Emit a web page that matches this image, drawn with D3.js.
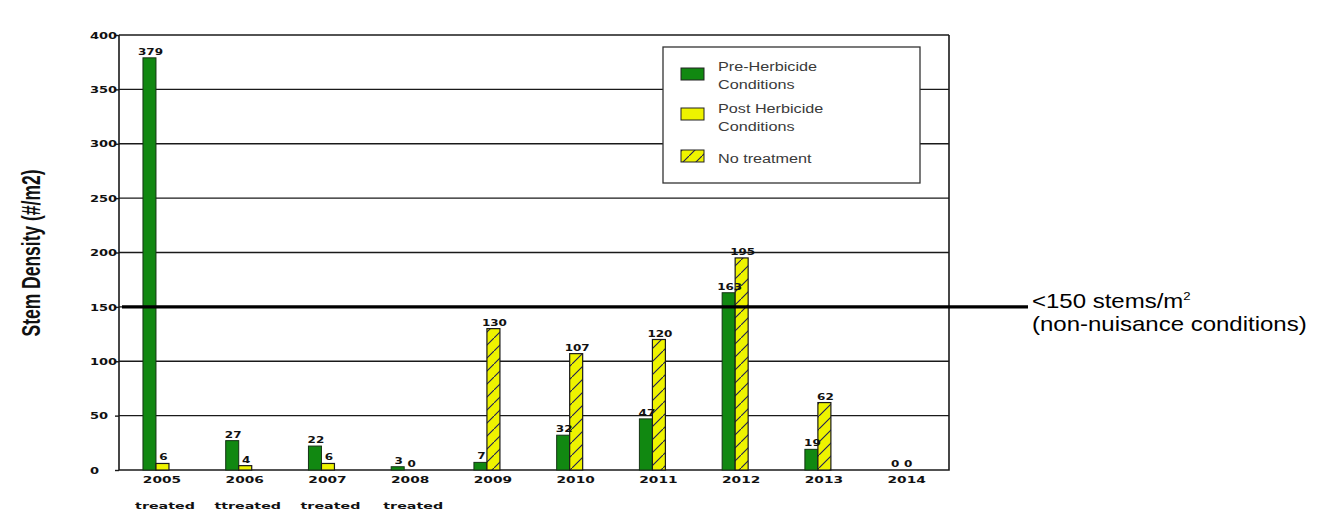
<!DOCTYPE html>
<html>
<head>
<meta charset="utf-8">
<script src="https://cdn.jsdelivr.net/npm/d3@7/dist/d3.min.js"></script>
<style>
  html, body { margin: 0; padding: 0; background: #fff; }
  svg { display: block; }
</style>
</head>
<body>
<svg id="chart" width="1321" height="510"></svg>
<script>
// Stem density by survey year
const years = ["2005", "2006", "2007", "2008", "2009", "2010", "2011", "2012", "2013", "2014"];
const preHerbicide = [379, 27, 22, 3, 7, 32, 47, 163, 19, 0];
const secondValues = [6, 4, 6, 0, 130, 107, 120, 195, 62, 0];
// whether the second bar of a year is post-herbicide or an untreated year
const secondKind = ["post", "post", "post", "post", "none", "none", "none", "none", "none", "none"];
const treatmentNotes = ["treated", "ttreated", "treated", "treated", "", "", "", "", "", ""];
const yTicks = [0, 50, 100, 150, 200, 250, 300, 350, 400];
const threshold = 150;
const legendItems = [
  { kind: "pre", lines: ["Pre-Herbicide", "Conditions"] },
  { kind: "post", lines: ["Post Herbicide", "Conditions"] },
  { kind: "none", lines: ["No treatment"] }
];

const svg = d3.select("#chart");
const plot = { left: 119, right: 949, top: 35, bottom: 470 };
const SX = 1.2;      // horizontal stretch for regular text
const SX_SMALL = 1.45; // horizontal stretch for the small bold labels

const x = d3.scaleBand().domain(years).range([114.6, 942]).padding(0);
const y = d3.scaleLinear().domain([0, 400]).range([plot.bottom, plot.top]);
const barW = 13;

const GREEN = "#118811";
const YELLOW = "#eef300";
const INK = "#1a1a1a";

// draws a horizontally stretched text at (px, py)
function stretchedText(parent, px, py, str, opts, sx) {
  const t = parent.append("text")
    .attr("transform", `translate(${px},${py}) scale(${sx || SX},1)`)
    .attr("x", 0).attr("y", 0)
    .text(str);
  Object.entries(opts || {}).forEach(([k, v]) => t.attr(k, v));
  return t;
}
const smallBold = {
  "font-family": "DejaVu Sans", "font-weight": "bold", "fill": "#111"
};

// hatch for untreated years
const defs = svg.append("defs");
const pat = defs.append("pattern")
  .attr("id", "hatch")
  .attr("patternUnits", "userSpaceOnUse")
  .attr("width", 13).attr("height", 13);
pat.append("rect").attr("width", 13).attr("height", 13).attr("fill", YELLOW);
pat.append("path").attr("d", "M-2,15 L15,-2")
  .attr("stroke", "#1c1c55").attr("stroke-width", 1.1);

const fillFor = k => k === "pre" ? GREEN : (k === "post" ? YELLOW : "url(#hatch)");

// horizontal gridlines
svg.append("g").selectAll("line").data(yTicks.filter(d => d > 0)).join("line")
  .attr("x1", plot.left).attr("x2", plot.right)
  .attr("y1", d => y(d)).attr("y2", d => y(d))
  .attr("stroke", INK).attr("stroke-width", 1.4);

// y axis with left-aligned tick labels
const yAxis = d3.axisLeft(y).tickValues(yTicks).tickSize(4).tickFormat(d3.format("d"));
const yG = svg.append("g").attr("transform", `translate(${plot.left},0)`).call(yAxis);
yG.select(".domain").remove();
yG.selectAll(".tick line").attr("stroke", INK).attr("stroke-width", 1.4);
yG.selectAll(".tick text")
  .attr("x", 0).attr("text-anchor", "start").attr("dy", "0.35em")
  .attr("transform", `translate(${90 - plot.left},0) scale(${SX_SMALL},1)`)
  .attr("font-family", "DejaVu Sans").attr("font-weight", "bold")
  .attr("font-size", 9).attr("fill", "#111");

// frame
svg.append("path")
  .attr("d", `M${plot.left},${plot.top} V${plot.bottom} H${plot.right} V${plot.top}`)
  .attr("fill", "none").attr("stroke", INK).attr("stroke-width", 1.6);

// legend box (covers gridlines behind it)
const lg = svg.append("g");
lg.append("rect").attr("x", 663).attr("y", 47).attr("width", 257).attr("height", 136)
  .attr("fill", "#fff").attr("stroke", "#333").attr("stroke-width", 1.3);
const swatchY = [68, 108, 150];
const textBase = [[71, 89], [113, 131], [163]];
legendItems.forEach((it, i) => {
  lg.append("rect").attr("x", 681).attr("y", swatchY[i]).attr("width", 23).attr("height", 12)
    .attr("fill", fillFor(it.kind)).attr("stroke", "#222").attr("stroke-width", 1);
  it.lines.forEach((t, j) => {
    stretchedText(lg, 718, textBase[i][j], t, {
      "font-family": "Liberation Sans, Arial, sans-serif",
      "font-size": 13.5, "fill": "#3a3a3a"
    });
  });
});

// bars
const bars = svg.append("g");
years.forEach((yr, i) => {
  const cx = x(yr) + x.bandwidth() / 2;
  const pre = preHerbicide[i], sec = secondValues[i];
  if (pre > 0) {
    bars.append("rect").attr("x", cx - barW).attr("width", barW)
      .attr("y", y(pre)).attr("height", y(0) - y(pre))
      .attr("fill", GREEN).attr("stroke", "#143314").attr("stroke-width", 1);
  }
  if (sec > 0) {
    bars.append("rect").attr("x", cx).attr("width", barW)
      .attr("y", y(sec)).attr("height", y(0) - y(sec))
      .attr("fill", fillFor(secondKind[i])).attr("stroke", "#1a1a1a").attr("stroke-width", 1.2);
  }
});

// value labels
const lab = svg.append("g");
years.forEach((yr, i) => {
  const cx = x(yr) + x.bandwidth() / 2;
  const opts = Object.assign({ "font-size": 8, "text-anchor": "middle" }, smallBold);
  stretchedText(lab, cx - barW / 2 + 1, y(preHerbicide[i]) - 3, preHerbicide[i], opts, 1.5);
  stretchedText(lab, cx + barW / 2 + 1, y(secondValues[i]) - 3, secondValues[i], opts, 1.5);
});

// x axis labels
const xAxis = d3.axisBottom(x).tickSize(0).tickPadding(0);
const xG = svg.append("g").attr("transform", `translate(6,${plot.bottom})`).call(xAxis);
xG.select(".domain").remove();
xG.selectAll(".tick text")
  .attr("x", 0).attr("y", 0).attr("dy", 0)
  .attr("transform", `translate(0,13) scale(${SX_SMALL},1)`)
  .attr("font-family", "DejaVu Sans").attr("font-weight", "bold")
  .attr("font-size", 9.5).attr("fill", "#111");

const notes = svg.append("g");
years.forEach((yr, i) => {
  if (!treatmentNotes[i]) return;
  stretchedText(notes, x(yr) + x.bandwidth() / 2 + 9, 509, treatmentNotes[i],
    Object.assign({ "font-size": 9.5, "text-anchor": "middle" }, smallBold), 1.5);
});

// y axis title
svg.append("text")
  .attr("transform", "translate(40,253) scale(1.2,1) rotate(-90)")
  .attr("text-anchor", "middle")
  .attr("font-family", "Liberation Sans Narrow, Liberation Sans, Arial, sans-serif")
  .attr("font-weight", "bold").attr("font-size", 22)
  .attr("textLength", 167).attr("lengthAdjust", "spacingAndGlyphs")
  .attr("fill", "#111")
  .text("Stem Density (#/m2)");

// non-nuisance threshold
svg.append("line")
  .attr("x1", plot.left + 3).attr("x2", 1028)
  .attr("y1", y(threshold)).attr("y2", y(threshold))
  .attr("stroke", "#000").attr("stroke-width", 3.2);

const note = stretchedText(svg, 1032, 308, "", {
  "font-family": "Liberation Sans, Arial, sans-serif",
  "font-size": 20, "fill": "#000"
});
note.append("tspan").text("<150 stems/m");
note.append("tspan").attr("font-size", 11).attr("dy", -8).text("2");
stretchedText(svg, 1032, 331, "(non-nuisance conditions)", {
  "font-family": "Liberation Sans, Arial, sans-serif",
  "font-size": 20, "fill": "#000"
});
</script>
</body>
</html>
